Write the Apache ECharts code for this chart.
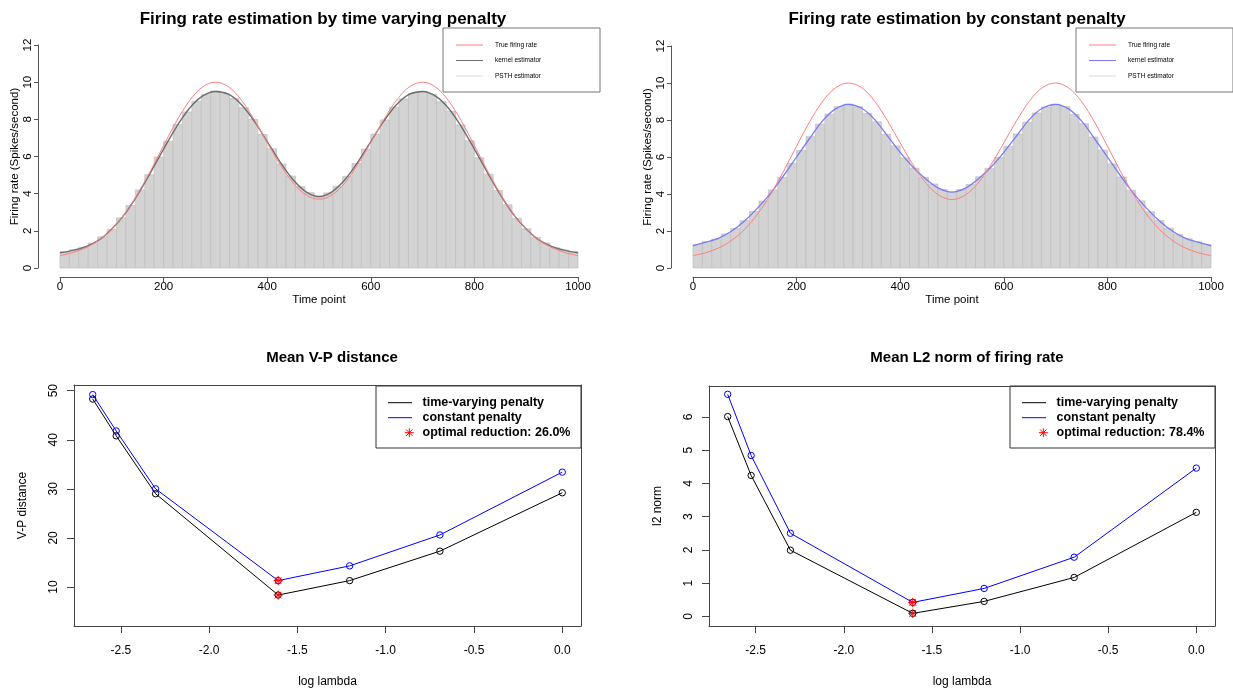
<!DOCTYPE html>
<html>
<head>
<meta charset="utf-8">
<script src="https://cdn.jsdelivr.net/npm/echarts@6/dist/echarts.min.js"></script>
<style>html,body{margin:0;padding:0;background:#fff}#c{width:1233px;height:694px}</style>
</head>
<body>
<div id="c"></div>
<script>
// ---------------- data ----------------
const timeGrid = [0,25,50,75,100,125,150,175,200,225,250,275,300,325,350,375,400,425,450,475,500,525,550,575,600,625,650,675,700,725,750,775,800,825,850,875,900,925,950,975,1000];
const trueRate = [0.67,0.83,1.09,1.50,2.10,2.93,3.99,5.24,6.59,7.90,9.00,9.74,10.0,9.76,9.04,7.98,6.76,5.57,4.58,3.93,3.70,3.93,4.58,5.57,6.76,7.98,9.04,9.76,10.0,9.74,9.00,7.90,6.59,5.24,3.99,2.93,2.10,1.50,1.09,0.83,0.67];
const kernelTimeVarying = [0.82,0.95,1.15,1.50,2.10,2.90,3.95,5.15,6.40,7.60,8.60,9.25,9.50,9.35,8.80,7.90,6.80,5.70,4.75,4.10,3.85,4.10,4.75,5.70,6.80,7.90,8.80,9.35,9.50,9.25,8.60,7.60,6.40,5.15,3.95,2.90,2.10,1.50,1.15,0.95,0.82];
const kernelConstant = [1.20,1.40,1.62,2.00,2.55,3.25,4.05,5.00,6.00,7.00,7.95,8.60,8.85,8.65,8.05,7.15,6.25,5.45,4.80,4.30,4.10,4.30,4.80,5.45,6.25,7.15,8.05,8.65,8.85,8.60,7.95,7.00,6.00,5.00,4.05,3.25,2.55,2.00,1.62,1.40,1.20];
const psthRange = [0, 1000];
const psthTimeVarying = [0.87,0.98,1.12,1.33,1.68,2.08,2.70,3.36,4.20,5.02,5.97,6.82,7.72,8.40,8.97,9.33,9.52,9.38,9.12,8.62,8.00,7.18,6.42,5.60,4.95,4.38,4.05,3.84,4.04,4.40,4.93,5.62,6.40,7.20,7.97,8.65,9.10,9.40,9.50,9.35,8.95,8.43,7.70,6.85,5.93,5.05,4.16,3.40,2.67,2.11,1.65,1.35,1.10,0.97,0.88];
const psthConstant = [1.27,1.43,1.57,1.84,2.14,2.56,3.05,3.62,4.22,4.90,5.65,6.35,7.10,7.78,8.32,8.72,8.86,8.72,8.36,7.90,7.22,6.60,5.95,5.40,4.90,4.54,4.24,4.10,4.25,4.52,4.93,5.38,5.97,6.58,7.24,7.88,8.38,8.70,8.85,8.73,8.30,7.80,7.08,6.37,5.63,4.92,4.20,3.63,3.04,2.57,2.15,1.82,1.58,1.42,1.28];

const logLambda = [-2.659,-2.526,-2.303,-1.609,-1.204,-0.693,0];
const vpTimeVarying = [48.3,40.8,29.0,8.36,11.3,17.3,29.2];
const vpConstant = [49.2,41.8,30.0,11.3,14.3,20.6,33.4];
const l2TimeVarying = [6.01,4.24,1.99,0.09,0.45,1.17,3.13];
const l2Constant = [6.68,4.84,2.50,0.42,0.84,1.78,4.46];
const optimalIndex = 3;
const vpReduction = '26.0%';
const l2Reduction = '78.4%';
const lambdaTicks = [-2.5,-2.0,-1.5,-1.0,-0.5,0.0];
const vpTicks = [10,20,30,40,50];
const l2Ticks = [0,1,2,3,4,5,6];

// ---------------- helpers ----------------
const FONT = 'Liberation Sans, Arial, sans-serif';
const pts = (xs, ys) => xs.map((x, i) => [x, ys[i]]);
function bins(h) {
  const w = (psthRange[1] - psthRange[0]) / h.length;
  return h.map((v, i) => [psthRange[0] + i * w, psthRange[0] + (i + 1) * w, v]);
}
function barRender(params, api) {
  const p0 = api.coord([api.value(0), 0]);
  const p1 = api.coord([api.value(1), api.value(2)]);
  return {type: 'rect', shape: {x: p0[0], y: p1[1], width: p1[0] - p0[0], height: p0[1] - p1[1]},
    style: {fill: '#d3d3d3', stroke: '#bfbfbf', lineWidth: 0.7}};
}
function starSegs(cx, cy, r, lw) {
  const d = r * 0.72;
  const segs = [[0, -r, 0, r], [-r, 0, r, 0], [-d, -d, d, d], [-d, d, d, -d]];
  return segs.map(s => ({type: 'line', shape: {x1: cx + s[0], y1: cy + s[1], x2: cx + s[2], y2: cy + s[3]}, style: {stroke: '#ff0000', lineWidth: lw}}));
}
function starRender(params, api) {
  const p = api.coord([api.value(0), api.value(1)]);
  return {type: 'group', children: starSegs(p[0], p[1], 4.6, 1)};
}
function circleRenderer(color) {
  return function (params, api) {
    const p = api.coord([api.value(0), api.value(1)]);
    return {type: 'circle', shape: {cx: p[0], cy: p[1], r: 3.2}, style: {fill: 'none', stroke: color, lineWidth: 1}};
  };
}

const axisTxt = {color: '#000', fontFamily: FONT};
function topX(gi) {
  return {gridIndex: gi, type: 'value', min: 0, max: 1000, interval: 200, offset: 9,
    axisLine: {show: true, onZero: false, lineStyle: {color: '#555', width: 1}},
    axisTick: {show: true, length: 5, lineStyle: {color: '#555'}},
    axisLabel: Object.assign({fontSize: 11.5, margin: 4, formatter: v => String(v)}, axisTxt),
    splitLine: {show: false},
    name: 'Time point', nameLocation: 'middle', nameGap: 16,
    nameTextStyle: Object.assign({fontSize: 11.5}, axisTxt)};
}
function topY(gi) {
  return {gridIndex: gi, type: 'value', min: 0, max: 12, interval: 2, offset: 22,
    axisLine: {show: true, onZero: false, lineStyle: {color: '#555', width: 1}},
    axisTick: {show: true, length: 4, lineStyle: {color: '#555'}},
    axisLabel: Object.assign({fontSize: 11.5, margin: 4, rotate: 90}, axisTxt),
    splitLine: {show: false},
    name: 'Firing rate (Spikes/second)', nameLocation: 'middle', nameGap: 13,
    nameTextStyle: Object.assign({fontSize: 11.5}, axisTxt)};
}
function botX(gi) {
  return {gridIndex: gi, type: 'value', min: -2.765, max: 0.106,
    axisLine: {show: true, onZero: false, lineStyle: {color: '#444', width: 1}},
    axisTick: {show: true, length: 7, lineStyle: {color: '#444'}, customValues: lambdaTicks},
    axisLabel: Object.assign({fontSize: 12, margin: 19, customValues: lambdaTicks, formatter: v => v.toFixed(1)}, axisTxt),
    splitLine: {show: false},
    name: 'log lambda', nameLocation: 'middle', nameGap: 50,
    nameTextStyle: Object.assign({fontSize: 12}, axisTxt)};
}
function botY(gi, min, max, ticks, name, gap) {
  return {gridIndex: gi, type: 'value', min: min, max: max,
    axisLine: {show: true, onZero: false, lineStyle: {color: '#444', width: 1}},
    axisTick: {show: true, length: 7, lineStyle: {color: '#444'}, customValues: ticks},
    axisLabel: Object.assign({fontSize: 12, margin: 14, rotate: 90, customValues: ticks}, axisTxt),
    splitLine: {show: false},
    name: name, nameLocation: 'middle', nameGap: gap,
    nameTextStyle: Object.assign({fontSize: 12}, axisTxt)};
}
function frameX(gi, min, max) {
  return {gridIndex: gi, type: 'value', position: 'top', min: min, max: max, axisLine: {show: true, onZero: false, lineStyle: {color: '#444'}}, axisTick: {show: false}, axisLabel: {show: false}, splitLine: {show: false}};
}
function frameY(gi, min, max) {
  return {gridIndex: gi, type: 'value', position: 'right', min: min, max: max, axisLine: {show: true, onZero: false, lineStyle: {color: '#444'}}, axisTick: {show: false}, axisLabel: {show: false}, splitLine: {show: false}};
}
function lineS(xi, data, color, width) {
  return {type: 'line', xAxisIndex: xi, yAxisIndex: xi, data: data, smooth: 0.35, symbol: 'none',
    lineStyle: {color: color, width: width}, silent: true, animation: false};
}
function ptsS(xi, data, color) {
  return [
    {type: 'line', xAxisIndex: xi, yAxisIndex: xi, data: data, symbol: 'none', lineStyle: {color: color, width: 1}, silent: true, animation: false},
    {type: 'custom', xAxisIndex: xi, yAxisIndex: xi, data: data, renderItem: circleRenderer(color), encode: {x: 0, y: 1}, z: 4, silent: true}
  ];
}
function starS(xi, data) {
  return {type: 'custom', xAxisIndex: xi, yAxisIndex: xi, data: data, renderItem: starRender, encode: {x: 0, y: 1}, z: 5, silent: true};
}

// legends drawn as graphics
function topLegend(x0, kernelColor) {
  const items = [['True firing rate', '#ff8080'], ['kernel estimator', kernelColor], ['PSTH estimator', '#d9d9d9']];
  const els = [{type: 'rect', shape: {x: x0, y: 28, width: 157, height: 64}, style: {fill: '#fff', stroke: '#777', lineWidth: 1}}];
  items.forEach((it, i) => {
    const y = 45 + i * 15.5;
    els.push({type: 'line', shape: {x1: x0 + 13, y1: y, x2: x0 + 40, y2: y}, style: {stroke: it[1], lineWidth: 1}});
    els.push({type: 'text', x: x0 + 52, y: y, style: {text: it[0], fill: '#000', font: '6.5px ' + FONT, verticalAlign: 'middle'}});
  });
  return {type: 'group', z: 100, children: els};
}
function botLegend(x0, x1, reduction) {
  const els = [{type: 'rect', shape: {x: x0, y: 386, width: x1 - x0, height: 62}, style: {fill: '#fff', stroke: '#333', lineWidth: 1}}];
  const rows = [['time-varying penalty', '#000'], ['constant penalty', '#0000ff'], ['optimal reduction: ' + reduction, null]];
  rows.forEach((r, i) => {
    const y = 402.7 + i * 15;
    if (r[1]) els.push({type: 'line', shape: {x1: x0 + 12, y1: y, x2: x0 + 36, y2: y}, style: {stroke: r[1], lineWidth: 1}});
    else starSegs(x0 + 33.3, y, 4.5, 1).forEach(e => els.push(e));
    els.push({type: 'text', x: x0 + 46.5, y: y, style: {text: r[0], fill: '#000', font: 'bold 12.5px ' + FONT, verticalAlign: 'middle'}});
  });
  return {type: 'group', z: 100, children: els};
}

const chart = echarts.init(document.getElementById('c'), null, {renderer: 'canvas'});
chart.setOption({
  animation: false,
  backgroundColor: '#fff',
  title: [
    {text: 'Firing rate estimation by time varying penalty', left: 318, top: 6, textAlign: 'center', textStyle: {fontFamily: FONT, fontWeight: 'bold', fontSize: 17, color: '#000'}},
    {text: 'Firing rate estimation by constant penalty', left: 952, top: 6, textAlign: 'center', textStyle: {fontFamily: FONT, fontWeight: 'bold', fontSize: 17, color: '#000'}},
    {text: 'Mean V-P distance', left: 327, top: 345, textAlign: 'center', textStyle: {fontFamily: FONT, fontWeight: 'bold', fontSize: 15, color: '#000'}},
    {text: 'Mean L2 norm of firing rate', left: 962, top: 345, textAlign: 'center', textStyle: {fontFamily: FONT, fontWeight: 'bold', fontSize: 15, color: '#000'}}
  ],
  grid: [
    {left: 60, top: 45, width: 518, height: 223},
    {left: 693, top: 46, width: 518, height: 222},
    {left: 74, top: 385, width: 507, height: 241},
    {left: 709, top: 386, width: 506, height: 240}
  ],
  xAxis: [topX(0), topX(1), botX(2), botX(3), frameX(2, -2.765, 0.106), frameX(3, -2.765, 0.106)],
  yAxis: [topY(0), topY(1), botY(2, 2.05, 51.16, vpTicks, 'V-P distance', 45), botY(3, -0.29, 6.93, l2Ticks, 'l2 norm', 45), frameY(2, 2.05, 51.16), frameY(3, -0.29, 6.93)],
  series: [
    {type: 'custom', xAxisIndex: 0, yAxisIndex: 0, data: bins(psthTimeVarying), renderItem: barRender, encode: {x: [0, 1], y: 2}, silent: true},
    lineS(0, pts(timeGrid, kernelTimeVarying), '#6e6e6e', 1.4),
    lineS(0, pts(timeGrid, trueRate), '#ff7f7f', 1),
    {type: 'custom', xAxisIndex: 1, yAxisIndex: 1, data: bins(psthConstant), renderItem: barRender, encode: {x: [0, 1], y: 2}, silent: true},
    lineS(1, pts(timeGrid, kernelConstant), '#7b7bf5', 1.3),
    lineS(1, pts(timeGrid, trueRate), '#ff7f7f', 1),
    ...ptsS(2, pts(logLambda, vpTimeVarying), '#000'),
    ...ptsS(2, pts(logLambda, vpConstant), '#0000ff'),
    starS(2, [[logLambda[optimalIndex], vpTimeVarying[optimalIndex]], [logLambda[optimalIndex], vpConstant[optimalIndex]]]),
    ...ptsS(3, pts(logLambda, l2TimeVarying), '#000'),
    ...ptsS(3, pts(logLambda, l2Constant), '#0000ff'),
    starS(3, [[logLambda[optimalIndex], l2TimeVarying[optimalIndex]], [logLambda[optimalIndex], l2Constant[optimalIndex]]])
  ],
  graphic: [
    topLegend(443, '#6e6e6e'),
    topLegend(1076, '#7b7bf5'),
    botLegend(376, 581, vpReduction),
    botLegend(1010, 1215, l2Reduction)
  ]
});
</script>
</body>
</html>
